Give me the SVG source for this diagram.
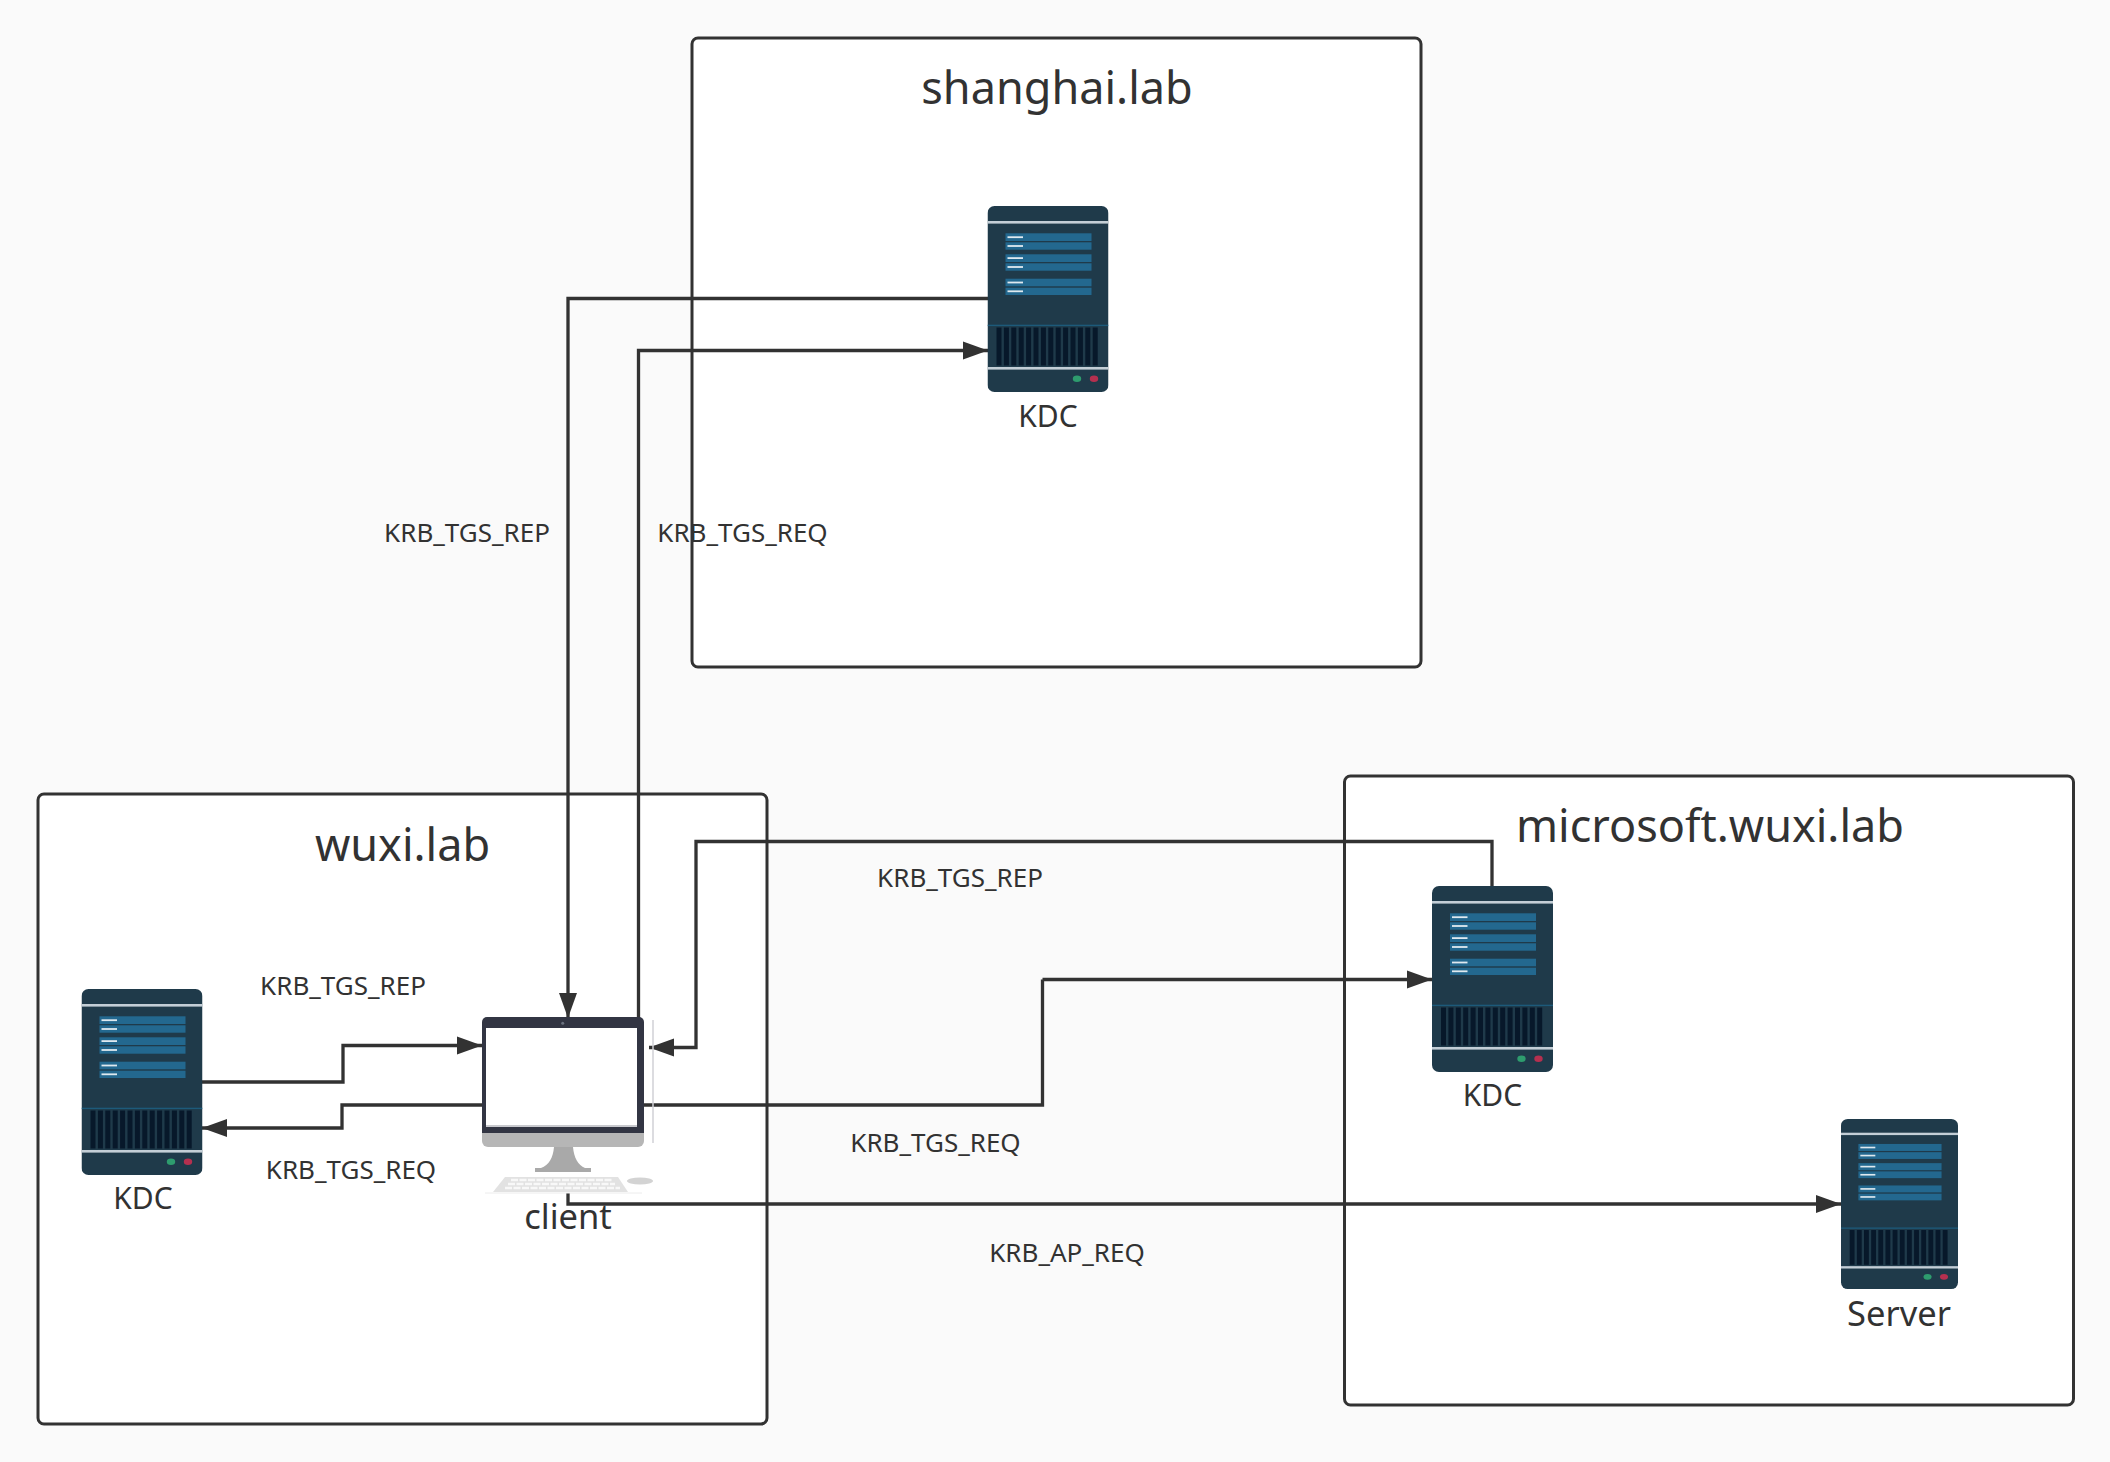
<svg xmlns="http://www.w3.org/2000/svg" xmlns:xlink="http://www.w3.org/1999/xlink" width="2110" height="1462" viewBox="0 0 2110 1462">
<style>
text{font-family:"Noto Sans","Open Sans","Liberation Sans",sans-serif;fill:#323232;text-anchor:middle}
.domain{fill:#fff;stroke:#323232;stroke-width:3}
.title{font-size:45px}
.name{font-size:30px}
.big{font-size:34.500px}
.edge{font-size:26px}
.conn{fill:none;stroke:#323232;stroke-width:3.300;marker-end:url(#arrow)}
.conn.plain{marker-end:none}
.bar{fill:#23688f}
.tick{fill:#dfe9ef}
.vent{fill:#07182a}
.rule{fill:#c3ced6}
</style>
<defs>
<marker id="arrow" markerUnits="userSpaceOnUse" markerWidth="26" markerHeight="20" refX="25" refY="10" orient="auto"><path d="M0 1L25 10L0 19Z" fill="#323232"/></marker>
<symbol id="server" viewBox="0 0 121 186" preserveAspectRatio="none">
<rect width="121" height="186" rx="7" fill="#1f3a4a"/>
<rect y="15" width="121" height="2.600" class="rule"/>
<rect x="18" y="27.300" width="86" height="7.700" class="bar"/><rect x="18" y="36.300" width="86" height="7.400" class="bar"/>
<rect x="18" y="48.300" width="86" height="7.700" class="bar"/><rect x="18" y="57.300" width="86" height="7.400" class="bar"/>
<rect x="18" y="72.700" width="86" height="7.600" class="bar"/><rect x="18" y="81.700" width="86" height="7.300" class="bar"/>
<rect x="20" y="30.300" width="15.500" height="1.800" class="tick"/><rect x="20" y="39.100" width="15.500" height="1.800" class="tick"/>
<rect x="20" y="51.200" width="15.500" height="1.800" class="tick"/><rect x="20" y="60.100" width="15.500" height="1.800" class="tick"/>
<rect x="20" y="75.600" width="15.500" height="1.800" class="tick"/><rect x="20" y="84.400" width="15.500" height="1.800" class="tick"/>
<rect y="118.700" width="121" height="1.400" fill="#1d5a7a"/>
<g class="vent"><rect x="9" y="121.500" width="5" height="38"/><rect x="16.400" y="121.500" width="5" height="38"/><rect x="23.800" y="121.500" width="5" height="38"/><rect x="31.200" y="121.500" width="5" height="38"/><rect x="38.600" y="121.500" width="5" height="38"/><rect x="46" y="121.500" width="5" height="38"/><rect x="53.400" y="121.500" width="5" height="38"/><rect x="60.800" y="121.500" width="5" height="38"/><rect x="68.200" y="121.500" width="5" height="38"/><rect x="75.600" y="121.500" width="5" height="38"/><rect x="83" y="121.500" width="5" height="38"/><rect x="90.400" y="121.500" width="5" height="38"/><rect x="97.800" y="121.500" width="5" height="38"/><rect x="105.200" y="121.500" width="5" height="38"/></g>
<rect y="161" width="121" height="2.600" class="rule"/>
<ellipse cx="89.500" cy="172.700" rx="4.200" ry="3.200" fill="#2e9c6e"/>
<ellipse cx="106.500" cy="172.700" rx="4.200" ry="3.200" fill="#b5304f"/>
</symbol>
</defs>
<rect width="2110" height="1462" fill="#fafafa"/>
<g id="domain-shanghai"><rect class="domain" x="692" y="38" width="729" height="629" rx="6"/><text class="title" x="1057" y="103.500">shanghai.lab</text></g>
<g id="domain-wuxi"><rect class="domain" x="38" y="794" width="729" height="630" rx="6"/><text class="title" x="402.500" y="860.500">wuxi.lab</text></g>
<g id="domain-microsoft"><rect class="domain" x="1344.500" y="776" width="729" height="629" rx="6"/><text class="title" x="1710" y="842">microsoft.wuxi.lab</text></g>
<g id="connectors">
<path class="conn" d="M988 298.500H568V1018"/>
<path class="conn" d="M638.500 1020V350.500H988"/>
<path class="conn" d="M1492 886V841.500H696V1047.500H649"/>
<path class="conn plain" d="M638 1105H1042.500V979.500"/>
<path class="conn" d="M1042.500 979.500H1432"/>
<path class="conn" d="M202 1082H343V1045.500H482"/>
<path class="conn" d="M482 1105H342V1128H202"/>
<path class="conn" d="M568 1193V1204H1841"/>
</g>
<g id="edge-labels">
<text class="edge" x="467" y="542">KRB_TGS_REP</text>
<text class="edge" x="742.500" y="542">KRB_TGS_REQ</text>
<text class="edge" x="960" y="887">KRB_TGS_REP</text>
<text class="edge" x="343" y="995">KRB_TGS_REP</text>
<text class="edge" x="351" y="1179">KRB_TGS_REQ</text>
<text class="edge" x="935.500" y="1152">KRB_TGS_REQ</text>
<text class="edge" x="1067" y="1262">KRB_AP_REQ</text>
</g>
<g id="kdc-shanghai"><use href="#server" x="987.500" y="206" width="121" height="186"/><text class="name" x="1048" y="426.500">KDC</text></g>
<g id="kdc-wuxi"><use href="#server" x="81.500" y="989" width="121" height="186"/><text class="name" x="143" y="1209">KDC</text></g>
<g id="kdc-microsoft"><use href="#server" x="1432" y="886" width="121" height="186"/><text class="name" x="1492.500" y="1106">KDC</text></g>
<g id="server-microsoft"><use href="#server" x="1841" y="1119" width="117" height="170"/><text class="big" x="1899" y="1326">Server</text></g>
<g id="client">
<path d="M482 1132H644V1141a6 6 0 0 1-6 6H488a6 6 0 0 1-6-6Z" fill="#b6b6b6"/>
<path d="M554 1147H573C574 1158 578 1165 585 1168H591V1172H535V1168H541C549 1165 553 1158 554 1147Z" fill="#a9a9a9"/>
<path d="M482 1133V1022a5 5 0 0 1 5-5H639a5 5 0 0 1 5 5V1133Z" fill="#323543"/>
<rect x="486" y="1028" width="151" height="98" fill="#fff"/>
<rect x="486" y="1125" width="151" height="2" fill="#c8c9ce"/>
<circle cx="562.700" cy="1023.300" r="1.500" fill="#6b7280"/>
<path d="M653 1020V1143" stroke="#d0d0d6" stroke-width="1.500" fill="none"/>
<path d="M493 1192L505 1177H618L628 1192Z" fill="#e2e2e2"/>
<path d="M511 1180H612M508 1184H615M505 1188H620" stroke="#f8f8f8" stroke-width="2.300" stroke-dasharray="7 1.500" fill="none"/>
<path d="M485 1193H642" stroke="#ececec" stroke-width="1" fill="none"/>
<ellipse cx="640" cy="1181" rx="13" ry="3.500" fill="#d3d3d3"/>
<text class="big" x="568" y="1229">client</text>
</g>
</svg>
